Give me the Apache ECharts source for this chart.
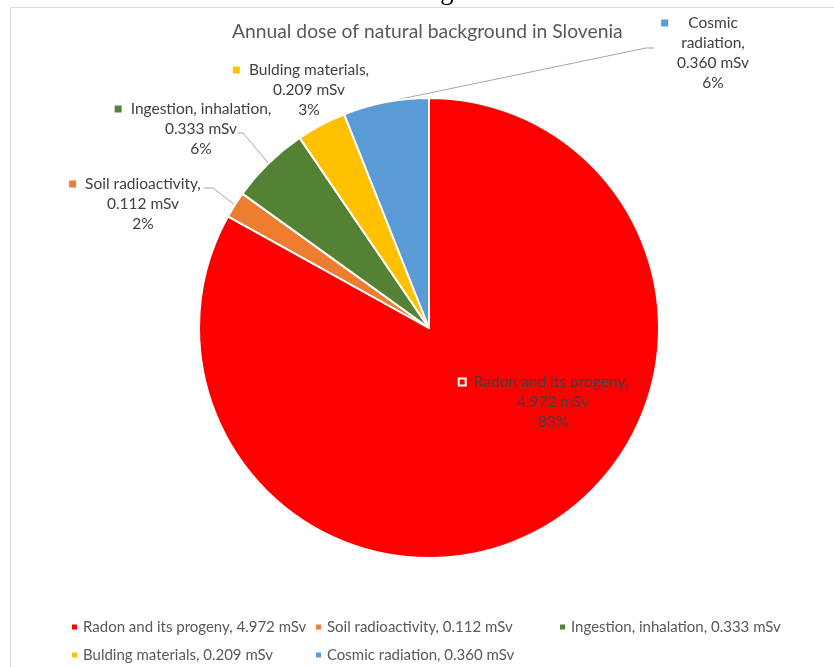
<!DOCTYPE html>
<html>
<head>
<meta charset="utf-8">
<title>Annual dose of natural background in Slovenia</title>
<script src="https://cdn.jsdelivr.net/npm/echarts@6/dist/echarts.min.js"></script>
<style>
  html, body { margin: 0; padding: 0; background: #ffffff; }
  #chart { width: 834px; height: 667px; }
</style>
</head>
<body>
<div id="chart"></div>
<script>
// Sources of the natural background dose and their annual contribution (mSv)
const sources = ['Radon and its progeny', 'Soil radioactivity', 'Ingestion, inhalation', 'Bulding materials', 'Cosmic radiation'];
const doses = [4.972, 0.112, 0.333, 0.209, 0.360];
const colors = ['#FF0000', '#ED7D31', '#548235', '#FFC000', '#5B9BD5'];

const chartTitle = 'Annual dose of natural background in Slovenia';
const pageLine = 'The total annual dose due to natural background in Slovenia is shown below.';

// Label placement: centre of each label block, and the leader path (elbow, end)
const labelCenters = [[553, 402], [143, 204], [201, 129], [309, 90], [713, 53]];
const leaderPaths = [null, [[213, 188], [204, 188]], [[243, 133], [238, 133]], null, [[646, 48], [654, 48]]];
// Words after which a label's name is wrapped onto a new line
const nameBreaks = [0, 0, 0, 0, 1];
// Legend grid: entries are laid out row by row in three columns
const legendColumns = [70, 314, 558];

const FONT = 'Lato, "Open Sans", sans-serif';
const LABEL_SIZE = 15.5;
const LEGEND_SIZE = 15;
const TEXT_COLOR = '#404040';
const LEGEND_COLOR = '#595959';

const total = doses.reduce(function (a, b) { return a + b; }, 0);

const measureCtx = document.createElement('canvas').getContext('2d');
function textWidth(s) {
  measureCtx.font = LABEL_SIZE + 'px ' + FONT;
  return measureCtx.measureText(s).width;
}

function labelLines(i) {
  const words = (sources[i] + ',').split(' ');
  const nameLines = nameBreaks[i]
    ? [words.slice(0, nameBreaks[i]).join(' '), words.slice(nameBreaks[i]).join(' ')]
    : [words.join(' ')];
  return nameLines.concat([doses[i].toFixed(3) + ' mSv', Math.round(doses[i] / total * 100) + '%']);
}

// Rich-text pieces: a colour key that sits left of the centred label block
const rich = {};
const labelTexts = sources.map(function (s, i) {
  const lines = labelLines(i);
  const w1 = textWidth(lines[0]);
  const wMax = Math.max.apply(null, lines.map(textWidth));
  const key = i === 0 ? 9 : 7;
  const gap = Math.round((wMax - w1) / 2 + 9);
  rich['m' + i] = {
    width: i === 0 ? 5 : 7, height: i === 0 ? 5 : 7, backgroundColor: colors[i],
    borderColor: i === 0 ? '#ffffff' : colors[i], borderWidth: i === 0 ? 2 : 0
  };
  rich['g' + i] = { width: gap, height: 1 };
  rich['p' + i] = { width: gap + key, height: 1 };
  const first = '{m' + i + '|}{g' + i + '|}' + lines[0] + '{p' + i + '|}';
  return [first].concat(lines.slice(1)).join('\n');
});

const pieData = sources.map(function (name, i) {
  return {
    name: name,
    value: doses[i],
    itemStyle: { color: colors[i] },
    labelLine: { show: !!leaderPaths[i] }
  };
});

// One vertical legend per column; rows are 28px apart
const legends = legendColumns.map(function (left, col) {
  const names = sources.filter(function (s, i) { return i % legendColumns.length === col; });
  return {
    data: names,
    left: left,
    top: 619,
    padding: 0,
    orient: 'vertical',
    itemWidth: 7,
    itemHeight: 7,
    itemGap: 12,
    icon: 'rect',
    selectedMode: false,
    formatter: function (name) {
      return name + ', ' + doses[sources.indexOf(name)].toFixed(3) + ' mSv';
    },
    textStyle: { fontFamily: FONT, fontSize: LEGEND_SIZE, lineHeight: 16, color: LEGEND_COLOR }
  };
});

const chart = echarts.init(document.getElementById('chart'), null, { renderer: 'canvas' });
chart.setOption({
  backgroundColor: '#ffffff',
  animation: false,
  title: {
    text: chartTitle,
    left: 227,
    top: 17,
    textStyle: { fontFamily: FONT, fontSize: 19.3, fontWeight: 'normal', color: '#595959' }
  },
  legend: legends,
  graphic: [
    {
      type: 'rect', silent: true, z: -1,
      shape: { x: 10.5, y: 7.5, width: 900, height: 700 },
      style: { fill: 'none', stroke: '#d9d9d9', lineWidth: 1 }
    },
    {
      type: 'text', silent: true,
      x: 4, y: -7.5,
      style: { text: pageLine, font: '26.5px "Liberation Serif", serif', fill: '#000000', verticalAlign: 'middle' }
    }
  ],
  series: [{
    type: 'pie',
    center: [429, 328],
    radius: 230,
    startAngle: 90,
    clockwise: true,
    avoidLabelOverlap: false,
    itemStyle: { borderColor: '#ffffff', borderWidth: 2 },
    label: {
      show: true,
      position: 'outside',
      formatter: function (p) { return labelTexts[p.dataIndex]; },
      fontFamily: FONT,
      fontSize: LABEL_SIZE,
      lineHeight: 20,
      color: TEXT_COLOR,
      align: 'center',
      rich: rich
    },
    labelLine: {
      show: true,
      smooth: false,
      lineStyle: { color: '#a6a6a6', width: 1 }
    },
    labelLayout: function (params) {
      const i = params.dataIndex;
      const c = labelCenters[i];
      const out = { x: c[0], y: c[1], align: 'center', verticalAlign: 'middle' };
      if (leaderPaths[i] && params.labelLinePoints) {
        const pts = params.labelLinePoints;
        out.labelLinePoints = [pts[0], leaderPaths[i][0], leaderPaths[i][1]];
      }
      return out;
    },
    emphasis: { disabled: true },
    data: pieData
  }]
});
</script>
</body>
</html>
